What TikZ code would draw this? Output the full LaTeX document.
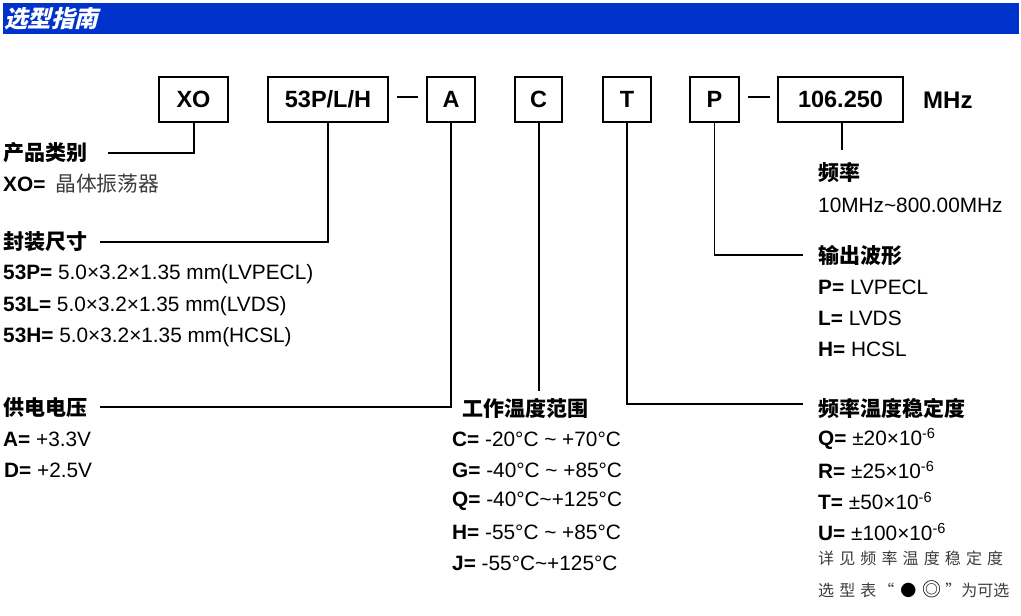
\documentclass[tikz,border=0pt]{standalone}
\usepackage{fontspec}
\setmainfont{Liberation Sans}
\newfontfamily\cjk{Noto Sans CJK SC}
\newfontfamily\cjkit{Noto Sans CJK SC}[FakeSlant=0.25]
\newfontfamily\cjksp{Noto Sans CJK SC}[LetterSpace=32]
\definecolor{hdrblue}{RGB}{0,51,204}
\definecolor{softtxt}{RGB}{60,60,60}
\tikzset{
  codebox/.style={draw, line width=1.4pt, minimum height=45pt, inner sep=0pt,
    font=\fontsize{23.5}{24}\selectfont\bfseries},
  lbl/.style={anchor=west, inner sep=0pt, font=\fontsize{20.8}{21}\selectfont},
  ttl/.style={anchor=west, inner sep=0pt, font=\fontsize{21}{21}\selectfont\cjk\bfseries},
  note/.style={anchor=west, inner sep=0pt, font=\fontsize{16}{16}\selectfont\cjksp, text=softtxt},
  thickln/.style={line width=2pt},
  thinln/.style={line width=1.2pt},
}
\begin{document}
\begin{tikzpicture}[x=1pt,y=-1pt]
\useasboundingbox (0,0) rectangle (1021,616);
% header
\fill[hdrblue] (3,3) rectangle (1019,34);
\node[anchor=west, inner sep=0pt, text=white, font=\fontsize{23.5}{24}\selectfont\cjkit\bfseries] (title) at (4,18.5) {选型指南};

% code boxes
\node[codebox, minimum width=69pt] (xo) at (193.5,99.5) {XO};
\node[codebox, minimum width=120pt] (pkg) at (328,99.5) {53P/L/H};
\node[codebox, minimum width=48pt] (volt) at (451,99.5) {A};
\node[codebox, minimum width=47pt] (temp) at (538.5,99.5) {C};
\node[codebox, minimum width=48pt] (stab) at (627,99.5) {T};
\node[codebox, minimum width=49pt] (outp) at (714.5,99.5) {P};
\node[codebox, minimum width=125pt] (freq) at (840.5,99.5) {106.250};
\node[anchor=west, inner sep=0pt, font=\fontsize{24}{24}\selectfont\bfseries] (mhz) at (923,100) {MHz};

% dashes
\coordinate (d1a) at (397,97); \coordinate (d1b) at (418,97);
\coordinate (d2a) at (748,97); \coordinate (d2b) at (770,97);
\draw[thinln] (d1a) -- (d1b);
\draw[thinln] (d2a) -- (d2b);

% left column
\node[ttl] (t1) at (3,153) {产品类别};
\node[lbl] (t1a) at (3,184) {\textbf{XO=}\hspace{10pt}{\cjk\color{softtxt}晶体振荡器}};
\node[ttl] (t2) at (3,242) {封装尺寸};
\node[lbl] (t2a) at (3,274) {\textbf{53P=} 5.0×3.2×1.35 mm(LVPECL)};
\node[lbl] (t2b) at (3,306) {\textbf{53L=} 5.0×3.2×1.35 mm(LVDS)};
\node[lbl] (t2c) at (3,337) {\textbf{53H=} 5.0×3.2×1.35 mm(HCSL)};
\node[ttl] (t3) at (3,408) {供电电压};
\node[lbl] (t3a) at (3,439) {\textbf{A=} +3.3V};
\node[lbl] (t3b) at (4,470) {\textbf{D=} +2.5V};

% middle column
\node[ttl] (t4) at (462,408) {工作温度范围};
\node[lbl] (t4a) at (452,439) {\textbf{C=} -20°C \textasciitilde{} +70°C};
\node[lbl] (t4b) at (452,470) {\textbf{G=} -40°C \textasciitilde{} +85°C};
\node[lbl] (t4c) at (452,501) {\textbf{Q=} -40°C\textasciitilde+125°C};
\node[lbl] (t4d) at (452,532) {\textbf{H=} -55°C \textasciitilde{} +85°C};
\node[lbl] (t4e) at (452,563) {\textbf{J=} -55°C\textasciitilde+125°C};

% right column
\node[ttl] (t5) at (818,173) {频率};
\node[lbl] (t5a) at (818,205) {10MHz\textasciitilde800.00MHz};
\node[ttl] (t6) at (818,256) {输出波形};
\node[lbl] (t6a) at (818,287) {\textbf{P=} LVPECL};
\node[lbl] (t6b) at (818,318) {\textbf{L=} LVDS};
\node[lbl] (t6c) at (818,349) {\textbf{H=} HCSL};
\node[ttl] (t7) at (818,408) {频率温度稳定度};
\node[lbl] (t7a) at (818,439) {\textbf{Q=} ±20×10\textsuperscript{-6}};
\node[lbl] (t7b) at (818,470) {\textbf{R=} ±25×10\textsuperscript{-6}};
\node[lbl] (t7c) at (818,501) {\textbf{T=} ±50×10\textsuperscript{-6}};
\node[lbl] (t7d) at (818,532) {\textbf{U=} ±100×10\textsuperscript{-6}};
\node[note] (n1) at (818,558) {详见频率温度稳定度};
\node[note] (n2) at (818,589) {选型表\hspace{2pt}“\hspace{6pt}{\color{black}●\hspace{6pt}{\fontsize{19}{19}\selectfont◎}}\hspace{4pt}”{\cjk 为可选}};

% connector end points
\coordinate (e1) at (108,153);
\coordinate (e2) at (100,242);
\coordinate (e3) at (100,407);
\coordinate (e4) at (538.5,391);
\coordinate (e5) at (803,404);
\coordinate (e6) at (803,255);
\coordinate (e7) at (842,150);

% connectors
\draw[thickln] (xo.south) |- (e1);
\draw[thickln] (pkg.south) |- (e2);
\draw[thickln] (volt.south) |- (e3);
\draw[thickln] (temp.south) -- (e4);
\draw[thickln] (stab.south) |- (e5);
\draw[thinln] (outp.south) |- (e6);
\draw[thinln] (freq.south -| e7) -- (e7);
\end{tikzpicture}
\end{document}
